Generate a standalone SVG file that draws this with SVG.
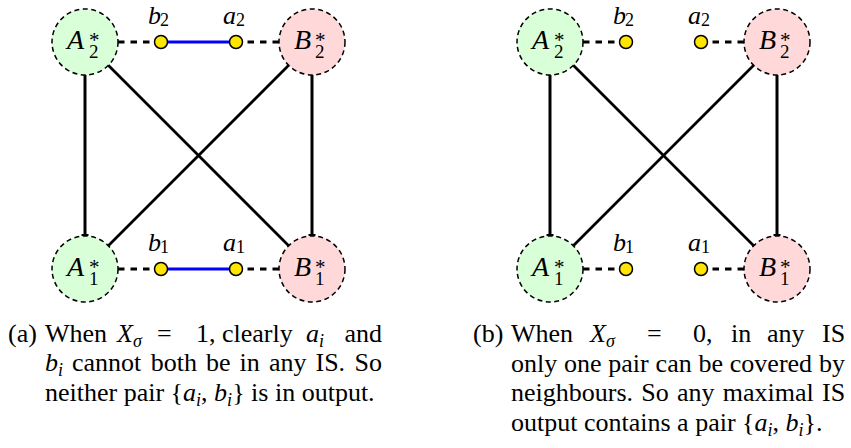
<svg xmlns="http://www.w3.org/2000/svg" width="851" height="448" viewBox="0 0 851 448" font-family="'Liberation Serif', 'DejaVu Serif', serif">
<style>
.bg{fill:#fff}
.ca{fill:#d9ffd9;stroke:#000;stroke-width:1.5;stroke-dasharray:5 3.5}
.cb{fill:#ffd9d9;stroke:#000;stroke-width:1.5;stroke-dasharray:5 3.5}
.dot{fill:#ffe600;stroke:#000;stroke-width:1.5}
.edge{stroke:#000;stroke-width:3;fill:none}
.diag{stroke:#000;stroke-width:2.7;fill:none}
.dash{stroke:#000;stroke-width:3;stroke-dasharray:6.5 6;fill:none}
.blue{stroke:#0000ff;stroke-width:3;fill:none}
text{font-family:'Liberation Serif','DejaVu Serif',serif;fill:#000}
.lbl{font-size:28px;font-style:italic}
.sub{font-size:19px;font-style:normal}
.star{font-size:21px;font-style:normal}
.dl{font-size:26px;font-style:italic}
.dsub{font-size:18px;font-style:normal}
.cap{font-size:26px}
.m{font-style:italic}
.s{font-size:18px}
</style>
<defs>
<marker id="bar" markerUnits="userSpaceOnUse" markerWidth="10" markerHeight="10" viewBox="-5 -5 10 10" refX="0" refY="0" orient="auto">
<path d="M0,-3.5V3.5" stroke="#000" stroke-width="2"/>
</marker>
</defs>
<rect class="bg" x="0" y="0" width="851" height="448"/>

<g id="connectors">
<line class="edge" x1="85" y1="75" x2="85" y2="235" marker-end="url(#bar)"/>
<line class="edge" x1="312" y1="75" x2="312" y2="235" marker-end="url(#bar)"/>
<line class="diag" x1="108.3" y1="65.3" x2="288.7" y2="245.7"/>
<line class="diag" x1="288.7" y1="65.3" x2="108.3" y2="245.7"/>
<line class="dash" x1="118" y1="42" x2="155" y2="42"/>
<line class="dash" x1="279" y1="42" x2="242" y2="42"/>
<line class="dash" x1="118" y1="269" x2="155" y2="269"/>
<line class="dash" x1="279" y1="269" x2="242" y2="269"/>
<line class="blue" x1="167" y1="42" x2="230" y2="42"/>
<line class="blue" x1="167" y1="269" x2="230" y2="269"/>
<line class="edge" x1="550" y1="75" x2="550" y2="235" marker-end="url(#bar)"/>
<line class="edge" x1="777" y1="75" x2="777" y2="235" marker-end="url(#bar)"/>
<line class="diag" x1="573.3" y1="65.3" x2="753.7" y2="245.7"/>
<line class="diag" x1="753.7" y1="65.3" x2="573.3" y2="245.7"/>
<line class="dash" x1="583" y1="42" x2="620" y2="42"/>
<line class="dash" x1="744" y1="42" x2="707" y2="42"/>
<line class="dash" x1="583" y1="269" x2="620" y2="269"/>
<line class="dash" x1="744" y1="269" x2="707" y2="269"/>
</g>

<g id="L_A2">
<circle class="ca" cx="85" cy="42" r="33"/>
<text class="lbl" x="67" y="49">A<tspan class="sub" x="89" y="58">2</tspan><tspan class="star" x="89" y="47">*</tspan></text>
</g>
<g id="L_B2">
<circle class="cb" cx="312" cy="42" r="33"/>
<text class="lbl" x="294" y="49">B<tspan class="sub" x="315" y="58">2</tspan><tspan class="star" x="315" y="47">*</tspan></text>
</g>
<g id="L_A1">
<circle class="ca" cx="85" cy="269" r="33"/>
<text class="lbl" x="67" y="276">A<tspan class="sub" x="89" y="285">1</tspan><tspan class="star" x="89" y="274">*</tspan></text>
</g>
<g id="L_B1">
<circle class="cb" cx="312" cy="269" r="33"/>
<text class="lbl" x="294" y="276">B<tspan class="sub" x="315" y="285">1</tspan><tspan class="star" x="315" y="274">*</tspan></text>
</g>
<g id="L_b2">
<circle class="dot" cx="161" cy="42" r="6.5"/>
<text class="dl" x="148" y="24">b<tspan class="dsub" x="160" y="26">2</tspan></text>
</g>
<g id="L_a2">
<circle class="dot" cx="236" cy="42" r="6.5"/>
<text class="dl" x="223" y="24">a<tspan class="dsub" x="236" y="26">2</tspan></text>
</g>
<g id="L_b1">
<circle class="dot" cx="161" cy="269" r="6.5"/>
<text class="dl" x="148" y="251">b<tspan class="dsub" x="160" y="253">1</tspan></text>
</g>
<g id="L_a1">
<circle class="dot" cx="236" cy="269" r="6.5"/>
<text class="dl" x="223" y="251">a<tspan class="dsub" x="236" y="253">1</tspan></text>
</g>

<g id="R_A2">
<circle class="ca" cx="550" cy="42" r="33"/>
<text class="lbl" x="532" y="49">A<tspan class="sub" x="554" y="58">2</tspan><tspan class="star" x="554" y="47">*</tspan></text>
</g>
<g id="R_B2">
<circle class="cb" cx="777" cy="42" r="33"/>
<text class="lbl" x="759" y="49">B<tspan class="sub" x="780" y="58">2</tspan><tspan class="star" x="780" y="47">*</tspan></text>
</g>
<g id="R_A1">
<circle class="ca" cx="550" cy="269" r="33"/>
<text class="lbl" x="532" y="276">A<tspan class="sub" x="554" y="285">1</tspan><tspan class="star" x="554" y="274">*</tspan></text>
</g>
<g id="R_B1">
<circle class="cb" cx="777" cy="269" r="33"/>
<text class="lbl" x="759" y="276">B<tspan class="sub" x="780" y="285">1</tspan><tspan class="star" x="780" y="274">*</tspan></text>
</g>
<g id="R_b2">
<circle class="dot" cx="626" cy="42" r="6.5"/>
<text class="dl" x="613" y="24">b<tspan class="dsub" x="625" y="26">2</tspan></text>
</g>
<g id="R_a2">
<circle class="dot" cx="701" cy="42" r="6.5"/>
<text class="dl" x="688" y="24">a<tspan class="dsub" x="701" y="26">2</tspan></text>
</g>
<g id="R_b1">
<circle class="dot" cx="626" cy="269" r="6.5"/>
<text class="dl" x="613" y="251">b<tspan class="dsub" x="625" y="253">1</tspan></text>
</g>
<g id="R_a1">
<circle class="dot" cx="701" cy="269" r="6.5"/>
<text class="dl" x="688" y="251">a<tspan class="dsub" x="701" y="253">1</tspan></text>
</g>

<g id="caption_a">
<text class="cap" x="8" y="342">(a)<tspan x="45">When</tspan><tspan x="117" class="m">X</tspan><tspan class="m s" dy="5">σ</tspan><tspan x="157" y="342">=</tspan><tspan x="196">1,</tspan><tspan x="222">clearly</tspan><tspan x="306" class="m">a</tspan><tspan class="m s" dy="5">i</tspan><tspan x="344.5" y="342">and</tspan></text>
<text class="cap" x="45" y="371"><tspan class="m">b</tspan><tspan class="m s" dy="5">i</tspan><tspan x="72" y="371">cannot</tspan><tspan x="150.7">both</tspan><tspan x="206">be</tspan><tspan x="239.5">in</tspan><tspan x="269">any</tspan><tspan x="315.5">IS.</tspan><tspan x="354.5">So</tspan></text>
<text class="cap" x="45" y="401">neither pair {<tspan class="m">a</tspan><tspan class="m s" dy="5">i</tspan><tspan dy="-5">, </tspan><tspan class="m">b</tspan><tspan class="m s" dy="5">i</tspan><tspan dy="-5">} is in output.</tspan></text>
</g>
<g id="caption_b">
<text class="cap" x="473" y="342">(b)<tspan x="511">When</tspan><tspan x="590" class="m">X</tspan><tspan class="m s" dy="5">σ</tspan><tspan x="647" y="342">=</tspan><tspan x="693">0,</tspan><tspan x="731">in</tspan><tspan x="767">any</tspan><tspan x="822">IS</tspan></text>
<text class="cap" x="511" y="372">only<tspan x="564">one</tspan><tspan x="608.3">pair</tspan><tspan x="655.6">can</tspan><tspan x="698.5">be</tspan><tspan x="729.8">covered</tspan><tspan x="819">by</tspan></text>
<text class="cap" x="511" y="401">neighbours.<tspan x="641.3">So</tspan><tspan x="677">any</tspan><tspan x="722.8">maximal</tspan><tspan x="822">IS</tspan></text>
<text class="cap" x="511" y="431">output contains a pair {<tspan class="m">a</tspan><tspan class="m s" dy="5">i</tspan><tspan dy="-5">, </tspan><tspan class="m">b</tspan><tspan class="m s" dy="5">i</tspan><tspan dy="-5">}.</tspan></text>
</g>
</svg>
